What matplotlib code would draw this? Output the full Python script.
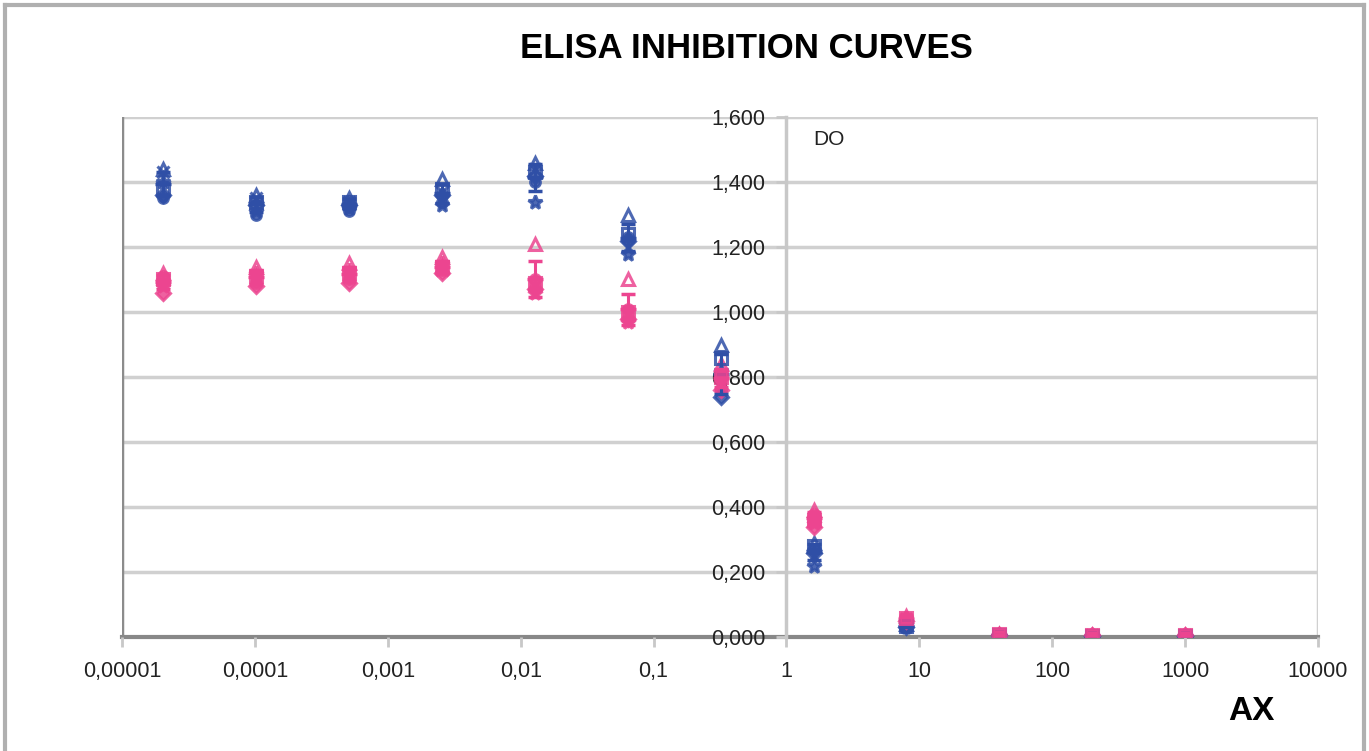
import matplotlib
matplotlib.use("Agg")
import matplotlib.pyplot as plt
import numpy as np
from matplotlib.ticker import FixedLocator, FuncFormatter
from matplotlib.lines import Line2D

plt.rcParams['font.family'] = ['Liberation Sans', 'DejaVu Sans']

# ---- data ----
conc = [2.048e-5, 1.024e-4, 5.12e-4, 2.56e-3, 0.0128, 0.064, 0.32, 1.6, 8, 40, 200, 1000]

blue_tri  = [1.44, 1.36, 1.35, 1.41, 1.46, 1.30, 0.90, 0.29, 0.040, 0.006, 0.004, 0.004]
blue_sq   = [1.38, 1.34, 1.34, 1.38, 1.43, 1.24, 0.86, 0.28, 0.035, 0.005, 0.004, 0.004]
blue_dia  = [1.36, 1.33, 1.33, 1.36, 1.42, 1.22, 0.74, 0.26, 0.030, 0.005, 0.003, 0.003]
blue_x    = [1.43, 1.35, 1.34, 1.37, 1.44, 1.20, 0.78, 0.25, 0.035, 0.005, 0.004, 0.004]
blue_star = [1.40, 1.31, 1.32, 1.33, 1.34, 1.18, 0.82, 0.22, 0.030, 0.004, 0.003, 0.003]
blue_circ = [1.35, 1.30, 1.31, 1.34, 1.40, 1.23, 0.76, 0.27, 0.040, 0.005, 0.004, 0.004]

pink_tri  = [1.12, 1.14, 1.15, 1.17, 1.21, 1.10, 0.84, 0.39, 0.065, 0.008, 0.006, 0.006]
pink_sq   = [1.10, 1.11, 1.12, 1.14, 1.09, 1.00, 0.80, 0.36, 0.060, 0.008, 0.006, 0.006]
pink_dia  = [1.06, 1.08, 1.09, 1.12, 1.07, 0.98, 0.76, 0.34, 0.050, 0.007, 0.005, 0.005]
pink_x    = [1.09, 1.10, 1.11, 1.13, 1.08, 0.99, 0.78, 0.37, 0.055, 0.007, 0.006, 0.006]
pink_star = [1.08, 1.12, 1.13, 1.15, 1.06, 0.97, 0.79, 0.35, 0.060, 0.008, 0.006, 0.006]
pink_circ = [1.11, 1.09, 1.10, 1.13, 1.10, 1.01, 0.81, 0.38, 0.050, 0.007, 0.005, 0.005]

x_ticks = [1e-5, 1e-4, 1e-3, 1e-2, 1e-1, 1, 10, 100, 1000, 10000]
x_tick_labels = ["0,00001", "0,0001", "0,001", "0,01", "0,1", "1", "10", "100", "1000", "10000"]
y_ticks = [0.0, 0.2, 0.4, 0.6, 0.8, 1.0, 1.2, 1.4, 1.6]

title = "ELISA INHIBITION CURVES"
x_label = "AX"
y_label = "DO"

BLUE = "#2f4fa6"
PINK = "#ec4590"

fig = plt.figure(figsize=(13.69, 7.51), dpi=100)
ax = fig.add_axes([122/1369, 1 - 637/751, (1318-122)/1369, (637-117)/751])
ax.set_xscale('log')
ax.set_xlim(1e-5, 1e4)
ax.set_ylim(0, 1.6)

# gridlines
for yv in y_ticks[1:]:
    ax.axhline(yv, color="#d0d0d0", lw=2.5, zorder=0)

# plot-area borders
ax.axvline(1e-5, color="#8c8c8c", lw=2.5, zorder=1)
ax.axvline(1e4, color="#d0d0d0", lw=2.5, zorder=1)

# spines
for s in ['top', 'right']:
    ax.spines[s].set_visible(False)
ax.spines['left'].set_position(('data', 1))
ax.spines['left'].set_color("#c8c8c8")
ax.spines['left'].set_linewidth(2.5)
ax.spines['bottom'].set_color("#888888")
ax.spines['bottom'].set_linewidth(3)
ax.spines['bottom'].set_zorder(1)

ax.xaxis.set_major_locator(FixedLocator(x_ticks))
ax.xaxis.set_minor_locator(FixedLocator([]))
ax.set_xticklabels(x_tick_labels)
ax.yaxis.set_major_locator(FixedLocator(y_ticks))
ax.yaxis.set_major_formatter(FuncFormatter(lambda v, p: f"{v:.3f}".replace('.', ',')))
ax.tick_params(axis='x', which='major', direction='out', length=7, width=2, color="#c8c8c8",
               labelsize=15.5, pad=10, labelcolor="#222222")
ax.tick_params(axis='y', which='major', direction='out', length=7, width=2, color="#c8c8c8",
               labelsize=15.5, pad=8, labelcolor="#222222")

def draw_group(color, series_list, sq_fill):
    styles = [('^', 'none', 3), ('D', 'full', 3), ('x', 'full', 3), ('*', 'full', 3),
              ('o', 'full', 3), ('s', sq_fill, 5)]
    order = [series_list[0], series_list[2], series_list[3], series_list[4],
             series_list[5], series_list[1]]
    for (mk, fs, z), vals in zip(styles, order):
        size = {'^': 8, 'D': 7, 'x': 8, '*': 10, 'o': 7, 's': 8}[mk]
        ax.plot(conc, vals, linestyle='none', marker=mk, markersize=size,
                color=color, fillstyle=fs, markeredgewidth=2.2, alpha=0.85, zorder=z)
    arr = np.array(series_list)
    mean = arr.mean(axis=0)
    sd = arr.std(axis=0, ddof=1)
    ax.errorbar(conc, mean, yerr=sd, fmt='_', color=color, markersize=12, mew=2.5,
                elinewidth=2.2, capsize=5, capthick=2.2, zorder=4)

draw_group(BLUE, [blue_tri, blue_sq, blue_dia, blue_x, blue_star, blue_circ], 'none')
draw_group(PINK, [pink_tri, pink_sq, pink_dia, pink_x, pink_star, pink_circ], 'full')

# texts
fig.text(746/1369, 1 - 48/751, title, ha='center', va='center', fontsize=25, fontweight='bold')
ax.text(1.6, 1.53, y_label, fontsize=15, color="#222222", va='center', ha='left')
fig.text(1251/1369, 1 - 711/751, x_label, ha='center', va='center', fontsize=24, fontweight='bold')

# outer border
fig.add_artist(Line2D([5/1369, 1364/1369], [1 - 5/751, 1 - 5/751], color="#b0b0b0", lw=3))
fig.add_artist(Line2D([5/1369, 5/1369], [0, 1 - 5/751], color="#b0b0b0", lw=3))
fig.add_artist(Line2D([1364/1369, 1364/1369], [0, 1 - 5/751], color="#b0b0b0", lw=3))

fig.savefig("out.png", dpi=100)
